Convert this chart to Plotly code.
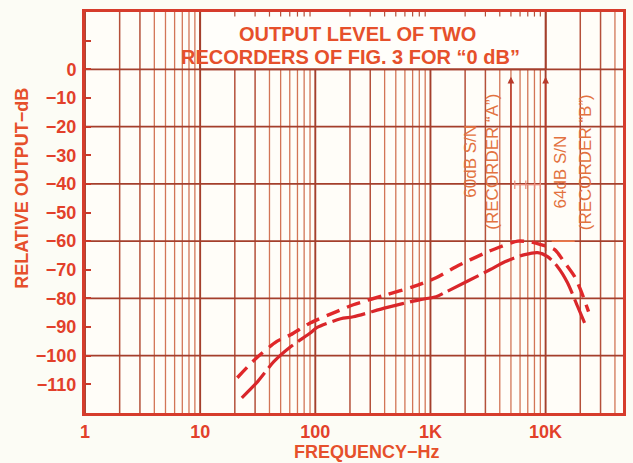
import numpy as np
import plotly.graph_objects as go

# Recorder "A" (upper curve): frequency in Hz, relative output in dB
freq_a = [21, 31, 46, 61, 91, 153, 214, 414, 708, 1120, 1670, 3030, 3850,
          5740, 7430, 9070, 12000, 14630, 17860, 20130, 23600]
db_a = [-107.7, -100.7, -95.1, -92.7, -88.5, -84.6, -82.2, -78.7, -75.9, -72.8,
        -68.9, -64.0, -62.3, -60.0, -60.3, -61.2, -63.0, -67.5, -72.4, -77.0, -84.6]

# Recorder "B" (lower curve)
freq_b = [23, 31, 43.6, 61, 91, 103, 166, 214, 414, 815, 1120, 1370, 3280, 4430,
          6590, 8540, 10400, 12700, 15500, 19000, 21800]
db_b = [-114.7, -109.4, -102.1, -96.9, -92.0, -90.2, -87.1, -86.4, -83.2, -80.4,
        -79.4, -77.7, -70.0, -67.2, -64.7, -64.0, -65.4, -68.9, -74.5, -82.9, -88.5]

# S/N figures (0 dB reference down to each recorder's peak)
sn_freqs = [5000, 10000]
sn_peaks = [-60, -64]
sn_labels = ["60dB S/N", "64dB S/N"]
rec_labels = ["(RECORDER “A”)", "(RECORDER “B”)"]

x_tick_vals = [1, 10, 100, 1000, 10000]
x_tick_text = ["1", "10", "100", "1K", "10K"]
y_tick_vals = [10, 0, -10, -20, -30, -40, -50, -60, -70, -80, -90, -100, -110]
y_tick_text = ["", "0", "−10", "−20", "−30", "−40", "−50", "−60", "−70",
               "−80", "−90", "−100", "−110"]

title_lines = ["OUTPUT LEVEL OF TWO", "RECORDERS OF FIG. 3 FOR “0 dB”"]

Y_MIN, Y_MAX = -120, 20
X_MAX = 47000

FONT = "Liberation Sans, Arial, Helvetica, sans-serif"
RED = "#e0282a"
TEXT = "#e6502b"
GRID_DARK = "#a43f2c"
GRID_MID = "#b4503a"
GRID_LIGHT = "#d27556"

fig = go.Figure()


def vlines(xs, y0=Y_MIN, y1=Y_MAX):
    px, py = [], []
    for x in xs:
        px += [x, x, None]
        py += [y0, y1, None]
    return px, py


def hlines(ys, x0=1, x1=X_MAX):
    px, py = [], []
    for y in ys:
        px += [x0, x1, None]
        py += [y, y, None]
    return px, py


decades = [1, 10, 100, 1000, 10000]
light_x, mid_x, dark_x = [], [], []
for d in decades:
    for m in range(1, 10):
        f = d * m
        if f > X_MAX:
            continue
        if m == 1:
            dark_x.append(f)
        elif m in (2, 3):
            mid_x.append(f)
        else:
            light_x.append(f)

for xs, col, w in [(light_x, GRID_LIGHT, 1.3), (mid_x, GRID_MID, 1.5), (dark_x, GRID_DARK, 1.9)]:
    gx, gy = vlines(xs)
    fig.add_trace(go.Scatter(x=gx, y=gy, mode="lines", line=dict(color=col, width=w),
                             hoverinfo="skip", showlegend=False))

gx, gy = hlines([0, -20, -40, -60, -80, -100])
fig.add_trace(go.Scatter(x=gx, y=gy, mode="lines", line=dict(color=GRID_DARK, width=1.8),
                         hoverinfo="skip", showlegend=False))

# White title panel above the 0 dB line
fig.add_trace(go.Scatter(x=[10, 10000, 10000, 10, 10], y=[0, 0, Y_MAX, Y_MAX, 0],
                         mode="lines", fill="toself", fillcolor="#fffefa",
                         line=dict(color="rgba(0,0,0,0)", width=0),
                         hoverinfo="skip", showlegend=False))
# short stubs of the grid along the top of the panel
stub_x = [f for f in light_x + mid_x if 10 < f < 10000]
sx, sy = vlines(stub_x, Y_MAX - 1.6, Y_MAX)
fig.add_trace(go.Scatter(x=sx, y=sy, mode="lines", line=dict(color=GRID_MID, width=1.2),
                         hoverinfo="skip", showlegend=False))
# panel edges
for xs, ys in [([10000, 10000], [0, Y_MAX]), ([10, 10000], [0, 0]), ([10, 10], [0, Y_MAX])]:
    fig.add_trace(go.Scatter(x=xs, y=ys, mode="lines", line=dict(color=GRID_DARK, width=1.9),
                             hoverinfo="skip", showlegend=False))

# small marks near the S/N arrows
fig.add_trace(go.Scatter(x=[5400, 6730, 8050, 9000], y=[-40.3] * 4, mode="lines+markers",
                         line=dict(color="#ea8c7c", width=1.2),
                         marker=dict(symbol="line-ns", size=6, line=dict(color="#ea8c7c", width=1.2)),
                         hoverinfo="skip", showlegend=False))
fig.add_trace(go.Scatter(x=[11300, 17900], y=[-60, -60], mode="lines",
                         line=dict(color="#f07a4a", width=1.6),
                         hoverinfo="skip", showlegend=False))

# Response curves
fig.add_trace(go.Scatter(x=freq_a, y=db_a, mode="lines",
                         line=dict(color=RED, width=3.4, dash="14px,8px", shape="spline", smoothing=0.7),
                         hoverinfo="skip", showlegend=False))
fig.add_trace(go.Scatter(x=freq_b, y=db_b, mode="lines",
                         line=dict(color="#d9262a", width=3.2, dash="34px,6px", shape="spline", smoothing=0.7),
                         hoverinfo="skip", showlegend=False))

annotations = []
# S/N arrows from each peak up to the 0 dB reference
for f, p in zip(sn_freqs, sn_peaks):
    annotations.append(dict(x=np.log10(f), y=-2.6, ax=np.log10(f), ay=p,
                            xref="x", yref="y", axref="x", ayref="y",
                            text="", showarrow=True, arrowhead=2, arrowsize=0.9,
                            arrowwidth=1.5, arrowcolor="#b83a2a"))

# rotated S/N labels
sn_pos = [(3.352, -31.9), (4.131, -35.8)]
rec_pos = [(3.542, -32.3), (4.347, -32.6)]
for (x, y), t in zip(sn_pos, sn_labels):
    annotations.append(dict(x=x, y=y, xref="x", yref="y", text=t, showarrow=False,
                            textangle=-90, font=dict(family=FONT, size=17, color="#e3723f")))
for (x, y), t in zip(rec_pos, rec_labels):
    annotations.append(dict(x=x, y=y, xref="x", yref="y", text=t, showarrow=False,
                            textangle=-90, font=dict(family=FONT, size=17, color="#e3723f")))

# title in the panel
for (x, y), t in zip([(2.370, 12.2), (2.305, 4.2)], title_lines):
    annotations.append(dict(x=x, y=y, xref="x", yref="y", text=t, showarrow=False,
                            font=dict(family=FONT, size=20, color=TEXT, weight="bold")))

# axis titles
annotations.append(dict(x=-0.1175, y=0.561, xref="paper", yref="paper",
                        text="RELATIVE OUTPUT−dB", showarrow=False, textangle=-90,
                        xanchor="center", yanchor="middle",
                        font=dict(family=FONT, size=18, color=TEXT, weight="bold")))
annotations.append(dict(x=0.5245, y=-0.097, xref="paper", yref="paper",
                        text="FREQUENCY−Hz", showarrow=False,
                        xanchor="center", yanchor="middle",
                        font=dict(family=FONT, size=18, color=TEXT, weight="bold")))

fig.update_layout(
    width=633, height=463,
    margin=dict(l=85, r=7, t=12, b=50),
    paper_bgcolor="#fcfcf5",
    plot_bgcolor="#fffdf8",
    annotations=annotations,
    xaxis=dict(type="log", range=[0, np.log10(X_MAX)], showgrid=False, zeroline=False,
               tickvals=x_tick_vals, ticktext=x_tick_text, ticks="",
               showline=True, linecolor="#d63c2c", linewidth=3, mirror=True,
               tickfont=dict(family=FONT, size=18, color="#e2402a", weight="bold")),
    yaxis=dict(range=[Y_MIN, Y_MAX], showgrid=False, zeroline=False,
               tickvals=y_tick_vals, ticktext=y_tick_text,
               ticks="inside", ticklen=6, tickwidth=1.5, tickcolor="#c83a2a",
               showline=True, linecolor="#d63c2c", linewidth=3, mirror=True,
               ticklabelstandoff=2,
               tickfont=dict(family=FONT, size=18, color="#e2402a", weight="bold")),
)

fig.write_html("out.html")
